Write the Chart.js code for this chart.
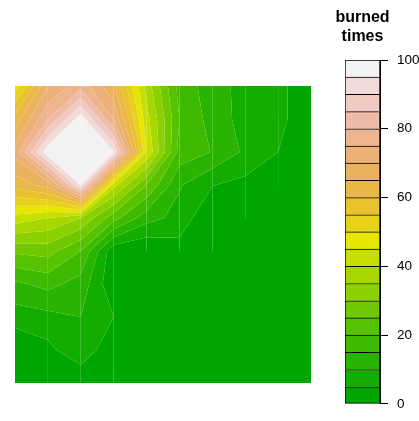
<!DOCTYPE html>
<html>
<head>
<meta charset="utf-8">
<title>burned times</title>
<script src="https://cdn.jsdelivr.net/npm/chart.js@4.4.0/dist/chart.umd.min.js"></script>
<style>
  html, body { margin: 0; padding: 0; background: #fff; overflow: hidden; }
  #wrap { position: relative; width: 419px; height: 421px; }
  #plot { position: absolute; left: 0; top: 0; }
  #key { position: absolute; left: 330px; top: 0; }
</style>
</head>
<body>
<div id="wrap">
  <canvas id="plot" width="330" height="421"></canvas>
  <canvas id="key" width="90" height="421"></canvas>
</div>
<script>
// grid nodes: columns left -> right, rows top -> bottom
const xs = [1, 2, 3, 4, 5, 6, 7, 8, 9, 10];
const ys = [10, 9, 8, 7, 6, 5, 4, 3, 2, 1];

// burned times at each node, one array per row (top row first)
const row10 = [47, 70, 78, 66, 38, 18, 12.5, 8, 7, 0];
const row9  = [62, 80, 98, 75, 42, 20, 13, 8, 7, 0];
const row8  = [72, 99, 100, 95.5, 45, 18, 14.8, 9, 5, 0];
const row7  = [62, 67, 95.5, 42, 25, 10.5, 5.2, 3.5, 0, 0];
const row6  = [43, 40, 35, 22, 12, 8.3, 0, 0, 0, 0];
const row5  = [26, 27, 20, 1.3, 0, 2.8, 0, 0, 0, 0];
const row4  = [14, 16.5, 13, 1, 0, 0, 0, 0, 0, 0];
const row3  = [7.5, 8.5, 10, 5, 0, 0, 0, 0, 0, 0];
const row2  = [0, 3.5, 9.1, 0.6, 0, 0, 0, 0, 0, 0];
const row1  = [0, 0, 0, 0, 0, 0, 0, 0, 0, 0];
const rows = [row10, row9, row8, row7, row6, row5, row4, row3, row2, row1];

// contour levels, key axis labels and key title
const levels = [0, 5, 10, 15, 20, 25, 30, 35, 40, 45, 50, 55, 60, 65, 70, 75, 80, 85, 90, 95, 100];
const keyTicks = [0, 20, 40, 60, 80, 100];
const keyTitle = ['burned', 'times'];

// R's hsv() / terrain.colors()
function hsv(h, s, v) {
  const i = Math.floor(h * 6), f = h * 6 - i;
  const p = v * (1 - s), q = v * (1 - f * s), t = v * (1 - (1 - f) * s);
  const [r, g, b] = [[v, t, p], [q, v, p], [p, v, t], [p, q, v], [t, p, v], [v, p, q]][i % 6];
  const hex = c => Math.round(c * 255).toString(16).padStart(2, '0');
  return '#' + hex(r) + hex(g) + hex(b);
}
function terrainColors(n) {
  const k = Math.floor(n / 2), out = [];
  for (let i = 0; i < k; i++) {
    const t = i / (k - 1);
    out.push(hsv(4 / 12 - 2 / 12 * t, 1, 0.65 + 0.25 * t));
  }
  const m = n - k + 1;
  for (let i = 1; i < m; i++) {
    const t = i / (m - 1);
    out.push(hsv(2 / 12 - 2 / 12 * t, 1 - t, 0.9 + 0.05 * t));
  }
  return out;
}
const bandColors = terrainColors(levels.length - 1);

// keep the part of a polygon above (or below) a level, z linear along edges
function clip(poly, level, above) {
  const out = [];
  for (let i = 0; i < poly.length; i++) {
    const a = poly[i], b = poly[(i + 1) % poly.length];
    const ina = above ? a.z >= level : a.z <= level;
    const inb = above ? b.z >= level : b.z <= level;
    if (ina) out.push(a);
    if (ina !== inb) {
      const t = (level - a.z) / (b.z - a.z);
      out.push({ x: a.x + t * (b.x - a.x), y: a.y + t * (b.y - a.y), z: level });
    }
  }
  return out;
}

const filledContour = {
  id: 'filledContour',
  beforeDatasetsDraw(chart) {
    const { ctx, scales: { x, y } } = chart;
    const px = xs.map(v => x.getPixelForValue(v));
    const py = ys.map(v => y.getPixelForValue(v));
    ctx.save();
    // cells wholly in the lowest band go in one path
    ctx.beginPath();
    for (let j = 0; j < rows.length - 1; j++) {
      for (let i = 0; i < xs.length - 1; i++) {
        const z = [rows[j][i], rows[j][i + 1], rows[j + 1][i + 1], rows[j + 1][i]];
        if (Math.max(...z) <= levels[1]) ctx.rect(px[i], py[j], px[i + 1] - px[i], py[j + 1] - py[j]);
      }
    }
    ctx.fillStyle = bandColors[0];
    ctx.fill();
    for (let j = 0; j < rows.length - 1; j++) {
      for (let i = 0; i < xs.length - 1; i++) {
        const quad = [
          { x: px[i], y: py[j], z: rows[j][i] },
          { x: px[i + 1], y: py[j], z: rows[j][i + 1] },
          { x: px[i + 1], y: py[j + 1], z: rows[j + 1][i + 1] },
          { x: px[i], y: py[j + 1], z: rows[j + 1][i] }
        ];
        if (Math.max(...quad.map(p => p.z)) <= levels[1]) continue;
        for (let k = 0; k < levels.length - 1; k++) {
          const poly = clip(clip(quad, levels[k], true), levels[k + 1], false);
          if (poly.length < 3) continue;
          ctx.beginPath();
          ctx.moveTo(poly[0].x, poly[0].y);
          for (const p of poly.slice(1)) ctx.lineTo(p.x, p.y);
          ctx.closePath();
          ctx.fillStyle = bandColors[k];
          ctx.fill();
        }
      }
    }
    ctx.restore();
  }
};

const nodes = [];
ys.forEach(yv => xs.forEach(xv => nodes.push({ x: xv, y: yv })));

new Chart(document.getElementById('plot'), {
  type: 'scatter',
  data: { datasets: [{ data: nodes, pointRadius: 0 }] },
  options: {
    responsive: false,
    animation: false,
    devicePixelRatio: 1,
    layout: { padding: { left: 15, top: 86, right: 19, bottom: 38 } },
    scales: {
      x: { type: 'linear', min: 1, max: 10, display: false },
      y: { type: 'linear', min: 1, max: 10, display: false }
    },
    plugins: { legend: { display: false }, tooltip: { enabled: false } }
  },
  plugins: [filledContour]
});

// colour key
const font = '"Liberation Sans", Arial, sans-serif';

// two-line bold title centred over the key bar
const keyTitlePlugin = {
  id: 'keyTitle',
  afterDraw(chart) {
    const { ctx, chartArea } = chart;
    ctx.save();
    ctx.font = 'bold 16px ' + font;
    ctx.fillStyle = '#000';
    ctx.textAlign = 'center';
    ctx.textBaseline = 'middle';
    const cx = (chartArea.left + chartArea.right) / 2;
    keyTitle.forEach((t, i) => ctx.fillText(t, cx, 18 + i * 19));
    ctx.restore();
  }
};

new Chart(document.getElementById('key'), {
  type: 'bar',
  data: {
    labels: ['key'],
    datasets: bandColors.map((c, k) => ({
      data: [levels[k + 1] - levels[k]],
      backgroundColor: c,
      borderColor: '#000',
      borderWidth: 1,
      borderSkipped: k === 0 ? false : 'start',
      barPercentage: 1,
      categoryPercentage: 1,
      stack: 'key'
    }))
  },
  options: {
    responsive: false,
    animation: false,
    devicePixelRatio: 1,
    layout: { padding: { left: 15, right: 0, top: 60, bottom: 13 } },
    scales: {
      x: { stacked: true, display: false },
      y: {
        stacked: true,
        position: 'right',
        min: 0,
        max: 100,
        afterBuildTicks: s => { s.ticks = keyTicks.map(v => ({ value: v })); },
        afterFit: s => { s.width = 40; },
        ticks: { color: '#000', padding: 9, font: { family: font, size: 13.5 } },
        grid: { drawOnChartArea: false, drawTicks: true, tickLength: 8, color: '#000' },
        border: { display: true, color: '#000' }
      }
    },
    plugins: { legend: { display: false }, tooltip: { enabled: false } }
  },
  plugins: [keyTitlePlugin]
});
</script>
</body>
</html>
